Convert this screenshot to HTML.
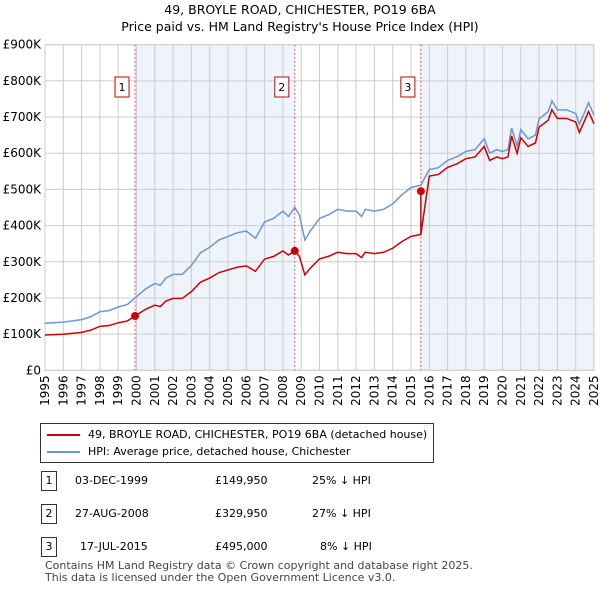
<!DOCTYPE html>
<html><head><meta charset="utf-8"><style>
body{margin:0;background:#fff;font-family:"DejaVu Sans","Liberation Sans",sans-serif;}
#wrap{position:relative;width:600px;height:590px;overflow:hidden}
.t{position:absolute;font-size:12px;color:#000;white-space:nowrap}
svg text{font-family:"DejaVu Sans","Liberation Sans",sans-serif}
</style></head><body><div id="wrap">
<div class="t" style="left:0;width:600px;text-align:center;top:1px;font-size:12.5px;line-height:17px">49, BROYLE ROAD, CHICHESTER, PO19 6BA<br>Price paid vs. HM Land Registry's House Price Index (HPI)</div>
<svg id="chart" width="600" height="420" style="position:absolute;left:0;top:0"></svg>
<div style="position:absolute;left:40px;top:423px;width:392px;height:38px;border:1px solid #333;"></div>
<svg width="60" height="40" style="position:absolute;left:44px;top:426px"><line x1="3" y1="9" x2="36" y2="9" stroke="#cc0000" stroke-width="2"/><line x1="3" y1="26" x2="36" y2="26" stroke="#6b97d4" stroke-width="2"/></svg>
<div class="t" style="left:88px;top:428px;font-size:11px">49, BROYLE ROAD, CHICHESTER, PO19 6BA (detached house)</div>
<div class="t" style="left:88px;top:445px;font-size:11px">HPI: Average price, detached house, Chichester</div>
<div id="rows"></div>
<div class="t" style="left:45px;top:560px;font-size:11px;color:#444;line-height:12px">Contains HM Land Registry data © Crown copyright and database right 2025.<br>This data is licensed under the Open Government Licence v3.0.</div>
</div>
<script>
const hpiYears=[1995,1996,1997,1997.5,1998,1998.5,1999,1999.5,1999.92,2000.5,2001,2001.3,2001.6,2002,2002.5,2003,2003.5,2004,2004.5,2005,2005.5,2006,2006.5,2007,2007.5,2008,2008.3,2008.65,2008.9,2009.2,2009.5,2010,2010.5,2011,2011.5,2012,2012.3,2012.5,2013,2013.5,2014,2014.5,2015,2015.54,2016,2016.5,2017,2017.5,2018,2018.5,2019,2019.3,2019.7,2020,2020.3,2020.5,2020.8,2021,2021.4,2021.8,2022,2022.5,2022.7,2023,2023.5,2024,2024.2,2024.5,2024.7,2025];
const hpiValues=[130,133,140,148,162,165,175,182,200,225,240,235,255,265,265,290,325,340,360,370,380,385,365,410,420,440,425,450,430,360,385,420,430,445,440,440,425,445,440,445,460,485,505,512,555,560,580,590,605,610,640,600,610,605,610,670,620,665,640,650,695,715,745,720,720,710,680,715,740,705];
const saleDates=[1999.92,2008.65,2015.54];
const salePrices=[149950,329950,495000];
const saleLabels=["03-DEC-1999","27-AUG-2008","17-JUL-2015"];
const saleDiffs=["25% \u2193 HPI","27% \u2193 HPI","8% \u2193 HPI"];
const yTicks=[0,100,200,300,400,500,600,700,800,900];
const xTicks=[1995,1996,1997,1998,1999,2000,2001,2002,2003,2004,2005,2006,2007,2008,2009,2010,2011,2012,2013,2014,2015,2016,2017,2018,2019,2020,2021,2022,2023,2024,2025];
const X0=45,X1=594,Y0=370.3,Y1=44.7;
const xs=t=>X0+(t-1995)/30*(X1-X0);
const ys=v=>Y0-v/900*(Y0-Y1);
const NS="http://www.w3.org/2000/svg",svg=document.getElementById('chart');
function mk(tag,a,p){const e=document.createElementNS(NS,tag);for(const k in a)e.setAttribute(k,a[k]);(p||svg).appendChild(e);return e;}
function hpiAt(t){for(let i=1;i<hpiYears.length;i++){if(t<=hpiYears[i]){const f=(t-hpiYears[i-1])/(hpiYears[i]-hpiYears[i-1]);return hpiValues[i-1]+f*(hpiValues[i]-hpiValues[i-1]);}}return hpiValues[hpiValues.length-1];}
let r=mk('rect',{x:xs(saleDates[0]),y:Y1,width:xs(saleDates[1])-xs(saleDates[0]),height:Y0-Y1,fill:'#eef3fc'});

r=mk('rect',{x:xs(saleDates[2]),y:Y1,width:X1-xs(saleDates[2]),height:Y0-Y1,fill:'#eef3fc'});

yTicks.forEach(v=>{const l=mk('line',{x1:X0,x2:X1,y1:ys(v),y2:ys(v),stroke:'#ccc'});

const tx=mk('text',{x:X0-4,y:ys(v)+4,'text-anchor':'end','font-size':12,fill:'#000'});tx.textContent=v?'£'+v+'K':'£0';
});
xTicks.forEach(t=>{const l=mk('line',{x1:xs(t),x2:xs(t),y1:Y1,y2:Y0,stroke:'#ccc'});

const tx=mk('text',{x:0,y:0,'text-anchor':'end','font-size':12,fill:'#000',transform:`translate(${xs(t)+4},${Y0+5}) rotate(-90)`});tx.textContent=t;
});
let b=mk('rect',{x:X0,y:Y1,width:X1-X0,height:Y0-Y1,fill:'none',stroke:'#ccc'});

saleDates.forEach((d,i)=>{const l=mk('line',{x1:xs(d),x2:xs(d),y1:Y1,y2:Y0,stroke:'#e55','stroke-dasharray':'2,2'});

const bx=mk('rect',{x:xs(d)-20,y:77,width:14,height:20,fill:'#fff',stroke:'#cc0000'});

const tx=mk('text',{x:xs(d)-13,y:91,'text-anchor':'middle','font-size':11});tx.textContent=i+1;
});
const hp=mk('polyline',{points:hpiYears.map((t,i)=>xs(t)+','+ys(hpiValues[i])).join(' '),fill:'none',stroke:'#6b97d4','stroke-width':1.5});

const pts=[];
hpiYears.forEach(t=>{let k=0;for(let j=0;j<saleDates.length;j++)if(t>=saleDates[j]-1e-6)k=j;
if(t>=saleDates[2]-1e-6&&pts.length){const pv=salePrices[1]/1000*hpiAt(saleDates[2])/hpiAt(saleDates[1]);pts.push([saleDates[2],pv]);}
pts.push([t,salePrices[k]/1000*hpiAt(t)/hpiAt(saleDates[k])]);});
pts.sort((a,b)=>a[0]-b[0]);
const pp=mk('polyline',{points:pts.map(p=>xs(p[0])+','+ys(p[1])).join(' '),fill:'none',stroke:'#cc0000','stroke-width':1.5});

saleDates.forEach((d,i)=>{const c=mk('circle',{cx:xs(d),cy:ys(salePrices[i]/1000),r:4,fill:'#cc0000'});
});
const rows=document.getElementById('rows');
saleDates.forEach((d,i)=>{const y=471+i*33;
const bx=document.createElement('div');bx.style.cssText=`position:absolute;left:41px;top:${y}px;width:14px;height:18px;border:1px solid #333;font-size:11px;text-align:center;line-height:18px`;bx.textContent=i+1;
rows.appendChild(bx);
const cells=[[i==2?80:75,saleLabels[i]],[215,'£'+salePrices[i].toLocaleString('en-GB')],[i==2?320:312,saleDiffs[i]]];
cells.forEach((c,j)=>{const e=document.createElement('div');e.className='t';e.style.cssText=`left:${c[0]}px;top:${y+3}px;font-size:11px`;e.textContent=c[1];
rows.appendChild(e);});});
</script></body></html>
